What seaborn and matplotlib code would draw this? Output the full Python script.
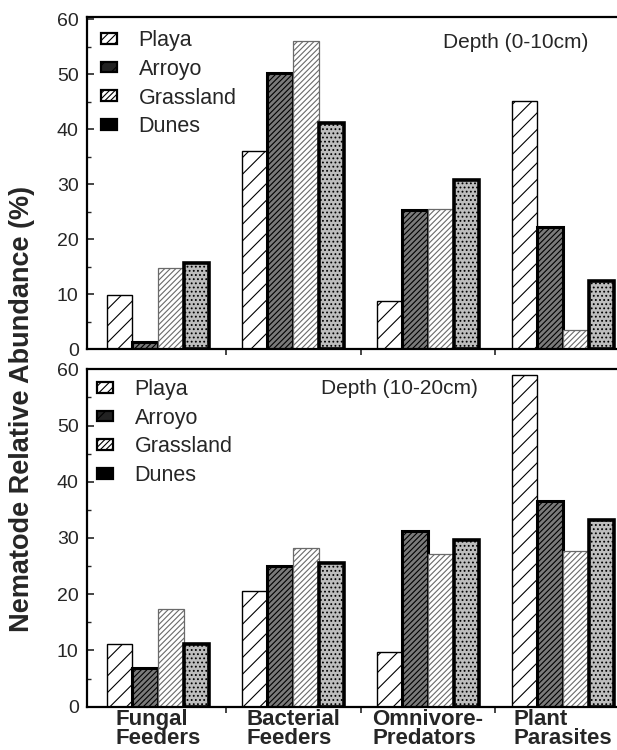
import numpy as np
import pandas as pd
import matplotlib
matplotlib.use("Agg")
import matplotlib.pyplot as plt
from matplotlib.patches import Patch
import seaborn as sns

# data (percent relative abundance)
groups = ["Fungal\nFeeders", "Bacterial\nFeeders", "Omnivore-\nPredators", "Plant\nParasites"]
sites = ["Playa", "Arroyo", "Grassland", "Dunes"]

# depth 0-10 cm
playa_top = [9.8, 36.0, 8.7, 45.2]
arroyo_top = [1.3, 50.3, 25.3, 22.2]
grass_top = [14.8, 56.0, 25.4, 3.5]
dunes_top = [15.6, 41.1, 30.7, 12.4]

# depth 10-20 cm
playa_bot = [11.1, 20.5, 9.7, 59.0]
arroyo_bot = [6.9, 25.1, 31.2, 36.6]
grass_bot = [17.4, 28.2, 27.1, 27.6]
dunes_bot = [11.2, 25.6, 29.7, 33.2]


def make_df(series):
    rows = []
    for site, vals in zip(sites, series):
        for g, v in zip(groups, vals):
            rows.append({"group": g, "site": site, "value": v})
    return pd.DataFrame(rows)


df_top = make_df([playa_top, arroyo_top, grass_top, dunes_top])
df_bot = make_df([playa_bot, arroyo_bot, grass_bot, dunes_bot])

sns.set_style("ticks")
plt.rcParams["font.family"] = ["Liberation Sans", "DejaVu Sans"]
plt.rcParams["hatch.linewidth"] = 0.8

# face, hatch, edge colour (also hatch colour), edge width
styles = {
    "Playa": ("white", "//", "black", 1.0),
    "Arroyo": ("#7a7a7a", "//////", "black", 2.2),
    "Grassland": ("white", "//////", "#6a6a6a", 0.9),
    "Dunes": ("#bdbdbd", "....", "black", 2.6),
}

# small legend swatches like the original (Dunes shows as a black block)
legend_styles = {
    "Playa": ("white", "////", "black"),
    "Arroyo": ("#222222", "//", "black"),
    "Grassland": ("white", "//////", "black"),
    "Dunes": ("black", "", "black"),
}

fig = plt.figure(figsize=(6.17, 7.5), dpi=100)
ax_top = fig.add_axes([87 / 617, 1 - 349 / 750, 547 / 617, 332.3 / 750])
ax_bot = fig.add_axes([87 / 617, 1 - 706.7 / 750, 547 / 617, 337.4 / 750])


def draw(ax, df, ytop, depth_label, depth_xy, leg_anchor):
    sns.barplot(data=df, x="group", y="value", hue="site", order=groups,
                hue_order=sites, width=0.756, gap=0, saturation=1,
                palette=["white"] * 4, ax=ax, legend=False)
    for site, cont in zip(sites, ax.containers):
        face, hatch, edge, lw = styles[site]
        for p in cont.patches:
            p.set_facecolor(face)
            p.set_hatch(hatch)
            p.set_edgecolor(edge)
            p.set_linewidth(lw)
    ax.set_xlim(-0.526, 3.526)
    ax.set_ylim(0, ytop)
    ax.set_yticks(np.arange(0, 61, 10))
    ax.set_yticks(np.arange(5, 60, 10), minor=True)
    ax.set_xticks([0.5, 1.5, 2.5], minor=True)
    ax.set_xlabel("")
    ax.set_ylabel("")
    ax.tick_params(axis="y", which="major", direction="in", length=5, width=1.2,
                   labelsize=14, pad=6)
    ax.tick_params(axis="y", which="minor", direction="in", length=3, width=1)
    ax.tick_params(axis="x", which="minor", direction="out", length=4, width=1.2)
    ax.tick_params(axis="x", which="major", length=0, pad=2)
    for s in ax.spines.values():
        s.set_linewidth(1.6)
        s.set_color("black")
    ax.grid(False)
    fig.text(depth_xy[0], depth_xy[1], depth_label, fontsize=15, ha="left", va="center")
    handles = [Patch(facecolor=f, hatch=h, edgecolor=e, linewidth=1.6)
               for f, h, e in (legend_styles[s] for s in sites)]
    ax.legend(handles, sites, loc="upper left", bbox_to_anchor=leg_anchor,
              bbox_transform=fig.transFigure, frameon=False, fontsize=15.5,
              handlelength=0.75, handleheight=0.4, handletextpad=1.0,
              labelspacing=0.36, borderpad=0, borderaxespad=0)


draw(ax_top, df_top, 60.5, "Depth (0-10cm)", (443 / 617, 1 - 42 / 750),
     (101 / 617, 1 - 30 / 750))
draw(ax_bot, df_bot, 60, "Depth (10-20cm)", (321 / 617, 1 - 388 / 750),
     (97 / 617, 1 - 379 / 750))

ax_top.set_xticklabels([])
ax_bot.set_xticklabels(groups, fontsize=16, fontweight="bold",
                       multialignment="left", linespacing=0.85)

fig.text(0.036, 0.455, "Nematode Relative Abundance (%)", rotation=90,
         fontsize=19.5, fontweight="bold", ha="center", va="center")

fig.savefig("out.png", dpi=100)
